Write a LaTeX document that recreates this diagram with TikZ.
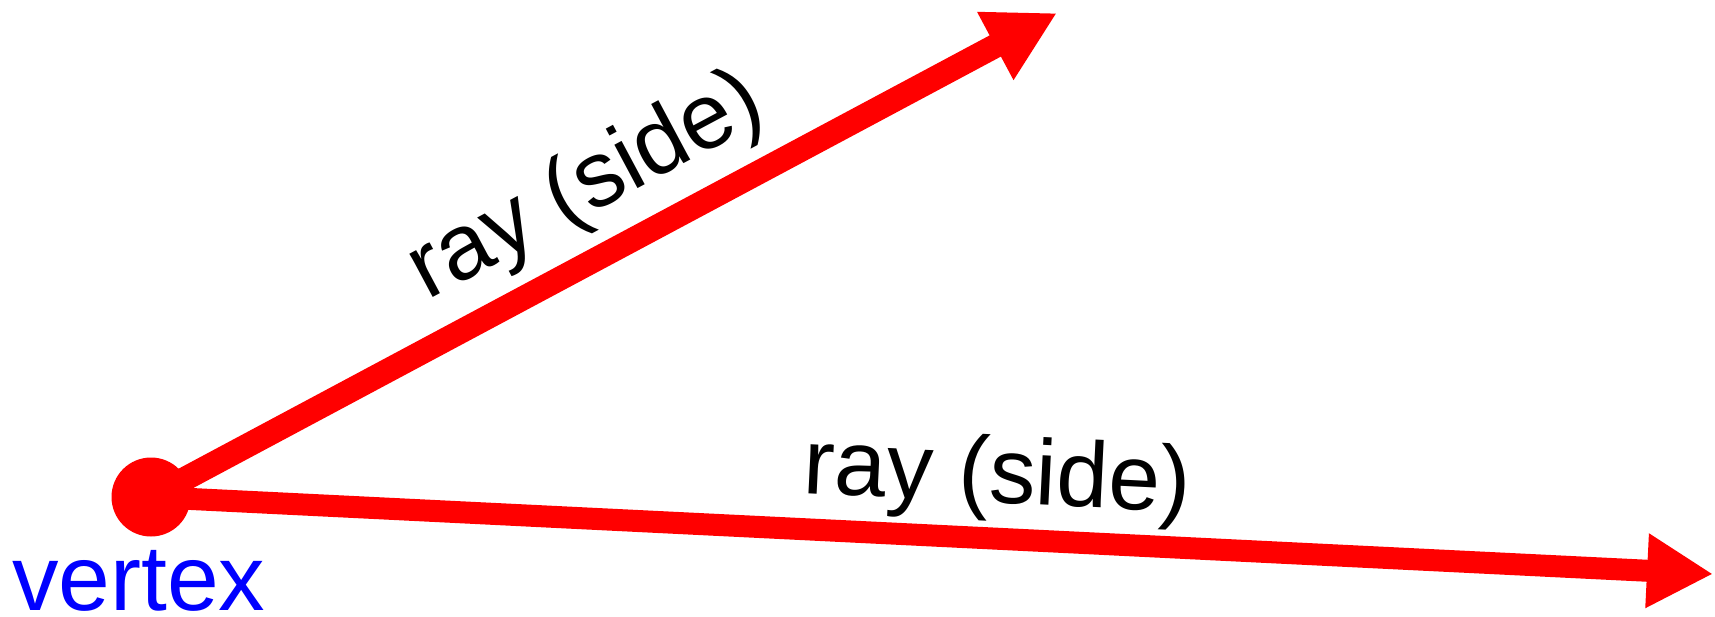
\documentclass[tikz,border=0pt]{standalone}
\usepackage{fontspec}
\setmainfont{Liberation Sans}
\usetikzlibrary{arrows.meta,calc}
\definecolor{rayred}{RGB}{255,0,0}
\definecolor{vblue}{RGB}{0,0,255}
\begin{document}
\begin{tikzpicture}[x=1pt,y=-1pt,
  bigfont/.style={font=\fontsize{93}{100}\selectfont},
  raytext/.style={bigfont, inner sep=0pt, anchor=base},
  rayline/.style={draw=rayred, line width=22pt},
]
\useasboundingbox (0,0) rectangle (1715,616);
\node[circle, fill=rayred, minimum size=79pt, inner sep=0pt] (v) at (151,497) {};
\coordinate (a) at (1057,13);
\coordinate (b) at (1713,574);
\draw[rayline, line width=24pt, -{Triangle[length=70pt,width=72pt]}] (v.center) -- (a);
\draw[rayline, -{Triangle[length=66pt,width=70pt]}] (v.center) -- (b);
\path (v.center) -- (a) coordinate[pos=0.516] (m1);
\path (v.center) -- (b) coordinate[pos=0.540] (m2);
\node[raytext, rotate=28.1] (t1) at ($(m1)!43pt!90:(a)$) {ray (side)};
\node[raytext, rotate=-2.8] (t2) at ($(m2)!36pt!90:(b)$) {ray (side)};
\node[bigfont, text=vblue, anchor=base west, inner sep=0pt] (vl) at (12,610) {vertex};
\end{tikzpicture}
\end{document}
